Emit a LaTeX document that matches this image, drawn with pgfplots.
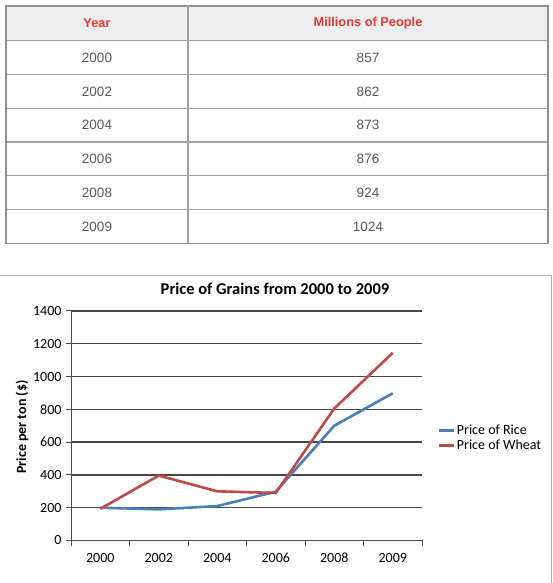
\documentclass[border=0pt]{standalone}
\usepackage{fontspec}
\setmainfont{Carlito}
\newfontfamily\tabfont{Liberation Sans}
\usepackage{pgfplots}
\pgfplotsset{compat=1.18}
\definecolor{riceblue}{HTML}{4A7EBB}
\definecolor{wheatred}{HTML}{BE4B48}
\definecolor{hdrred}{HTML}{E53935}
\definecolor{tabtext}{HTML}{5A5A5A}
\definecolor{tabline}{HTML}{A0A0A0}
\definecolor{hdrbg}{HTML}{EEEEEE}
\begin{document}
\begin{tikzpicture}[x=1pt,y=1pt]
\path[use as bounding box] (0,0) rectangle (552,583);
% ---------- table ----------
\fill[hdrbg] (6,583-6) rectangle (548,583-40.7);
\foreach \yy in {40.7,74.5,108.3,142.1,175.9,209.7}
  \draw[tabline, line width=1.2] (6,583-\yy) -- (548,583-\yy);
\draw[tabline!90!black, line width=1.5] (6,583-6) rectangle (548,583-243.5);
\draw[tabline, line width=2] (188,583-6) -- (188,583-243.5);
\begin{scope}[every node/.style={font=\tabfont\fontsize{13.5}{15}\selectfont, text=tabtext, anchor=center}]
\node[text=hdrred, font=\tabfont\bfseries\fontsize{12.8}{15}\selectfont] at (97,583-23.4) {Year};
\node[text=hdrred, font=\tabfont\bfseries\fontsize{12.8}{15}\selectfont] at (368,583-23.4) {Millions of People};
\node at (97,583-57.6) {2000};  \node at (368,583-57.6) {857};
\node at (97,583-91.4) {2002};  \node at (368,583-91.4) {862};
\node at (97,583-125.2) {2004}; \node at (368,583-125.2) {873};
\node at (97,583-159.0) {2006}; \node at (368,583-159.0) {876};
\node at (97,583-192.8) {2008}; \node at (368,583-192.8) {924};
\node at (97,583-226.6) {2009}; \node at (368,583-226.6) {1024};
\end{scope}
% ---------- chart frame ----------
\draw[black!30, line width=1] (0,583-276) -- (551,583-276) -- (551,0);
\node[font=\bfseries\fontsize{16.5}{18}\selectfont] at (275,583-288.5) {Price of Grains from 2000 to 2009};
\node[font=\bfseries\fontsize{14}{16}\selectfont, rotate=90] at (22,583-427) {Price per ton (\$)};
\begin{axis}[
  at={(71pt,42.5pt)}, anchor=origin,
  scale only axis, width=351pt, height=229.5pt,
  xmin=0, xmax=6, ymin=0, ymax=1400,
  axis lines*=left,
  axis line style={black!70, line width=1},
  xtick={0.5,1.5,...,5.5},
  xticklabels={2000,2002,2004,2006,2008,2009},
  minor xtick={0,1,...,6},
  ytick={0,200,...,1400},
  tick align=outside,
  major tick length=5, minor tick length=5,
  major x tick style={draw=none},
  minor x tick style={black!70, line width=1},
  major y tick style={black!70, line width=1},
  ymajorgrids,
  grid style={black!72, line width=1.3},
  /pgf/number format/assume math mode=true,
  /pgf/number format/1000 sep={},
  ticklabel style={font=\fontsize{14}{16}\selectfont},
  yticklabel style={xshift=-1pt},
  xticklabel style={yshift=-4pt},
  legend style={draw=none, fill=none, at={(1.043,0.447)}, anchor=west,
    font=\fontsize{14}{16}\selectfont, inner sep=0pt, row sep=0pt,
    /tikz/every even column/.append style={column sep=0pt}},
  legend cell align=left,
  legend image code/.code={\draw[#1] (0pt,0pt) -- (15pt,0pt);},
]
\addplot[riceblue, line width=2.6] coordinates {(0.5,200) (1.5,190) (2.5,210) (3.5,298) (4.5,700) (5.5,898)};
\addlegendentry{Price of Rice}
\addplot[wheatred, line width=2.6] coordinates {(0.5,193) (1.5,396) (2.5,300) (3.5,290) (4.5,805) (5.5,1145)};
\addlegendentry{Price of Wheat}
\end{axis}
\end{tikzpicture}
\end{document}
